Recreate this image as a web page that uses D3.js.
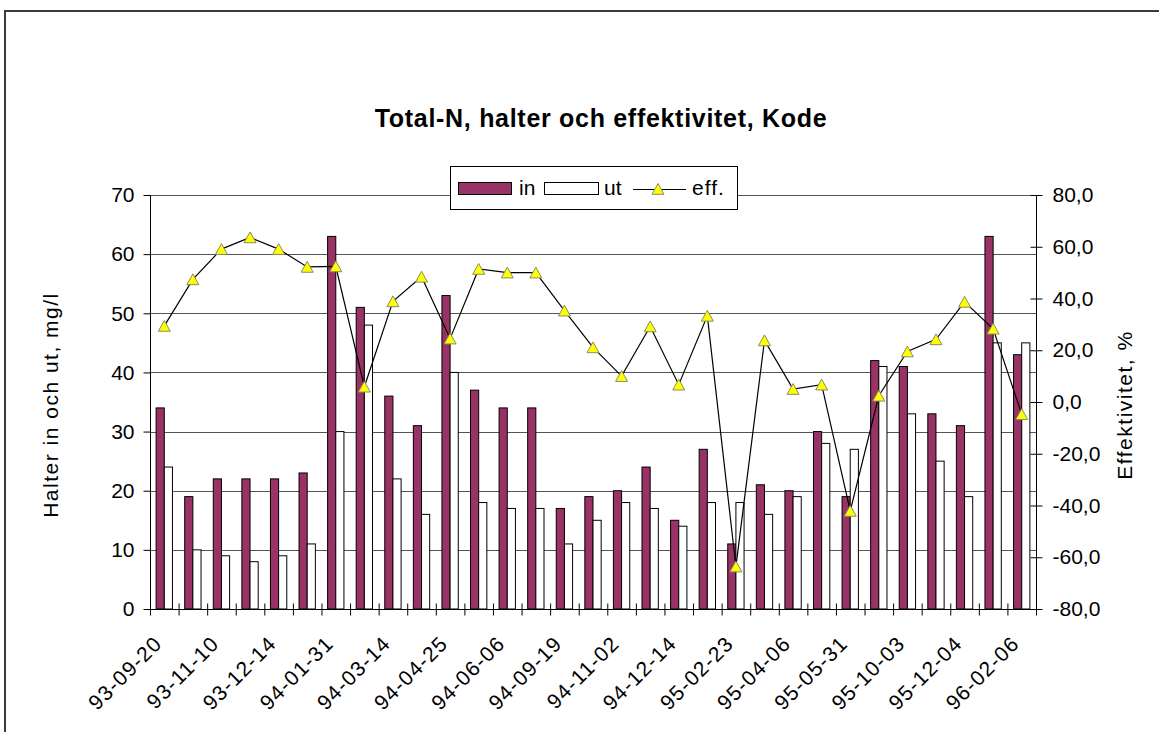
<!DOCTYPE html>
<html>
<head>
<meta charset="utf-8">
<script src="https://cdn.jsdelivr.net/npm/d3@7"></script>
<style>
  html, body { margin: 0; padding: 0; background: #fff; }
  svg { display: block; font-family: Arial, "Liberation Sans", sans-serif; }
</style>
</head>
<body>
<svg id="chart" width="1159" height="732"></svg>
<script>
// ---- data ----
const categoryLabels = ["93-09-20","93-11-10","93-12-14","94-01-31","94-03-14","94-04-25","94-06-06","94-09-19",
                        "94-11-02","94-12-14","95-02-23","95-04-06","95-05-31","95-10-03","95-12-04","96-02-06"]; // shown on every 2nd sample
const sampleCount = 31;
const inValues  = [34,19,22,22,22,23,63,51,36,31,53,37,34,34,17,19,20,24,15,27,11,21,20,30,19,42,41,33,31,63,43];
const utValues  = [24,10, 9, 8, 9,11,30,48,22,16,40,18,17,17,11,15,18,17,14,18,18,16,19,28,27,41,33,25,19,45,45];
const effValues = [29.4,47.4,59.1,63.6,59.1,52.2,52.4,5.9,38.9,48.4,24.5,51.4,50.0,50.0,35.3,21.1,10.0,29.2,6.7,33.3,
                   -63.6,23.8,5.0,6.7,-42.1,2.4,19.5,24.2,38.7,28.3,-4.7];
const leftTicks  = [0,10,20,30,40,50,60,70];
const rightTicks = [-80,-60,-40,-20,0,20,40,60,80];
const seriesNames = ["in","ut","eff."];
const titleText = "Total-N, halter och effektivitet, Kode";
const leftTitle = "Halter in och ut, mg/l";
const rightTitle = "Effektivitet, %";

// ---- layout ----
const svg = d3.select("#chart");
const X0 = 150, X1 = 1036, YT = 195, YB = 609;
const IN_COLOR = "#993366";

const idx = d3.range(sampleCount);
const x = d3.scaleBand().domain(idx).range([X0, X1]).paddingInner(1.5/3.5).paddingOuter(0.75/3.5);
const xs = d3.scaleBand().domain(["in","ut"]).range([0, x.bandwidth()]);
const step = (X1 - X0) / sampleCount;
const xc = i => X0 + (i + 0.5) * step;
const xEdge = d3.scaleLinear().domain([0, sampleCount]).range([X0, X1]);
const yL = d3.scaleLinear().domain([0, 70]).range([YB, YT]);
const yR = d3.scaleLinear().domain([-80, 80]).range([YB, YT]);

// outer frame
svg.append("path")
  .attr("d", `M5,732 L5,11 L1159,11`)
  .attr("fill", "none").attr("stroke", "#3a3a3a").attr("stroke-width", 2);

// title
svg.append("text")
  .attr("x", 601).attr("y", 127)
  .attr("text-anchor", "middle")
  .attr("font-size", 25).attr("font-weight", "bold")
  .attr("letter-spacing", 0.7)
  .text(titleText);

// gridlines
svg.append("g").selectAll("line")
  .data(leftTicks.filter(d => d > 0))
  .join("line")
  .attr("x1", X0).attr("x2", X1)
  .attr("y1", d => Math.round(yL(d)) + 0.5).attr("y2", d => Math.round(yL(d)) + 0.5)
  .attr("stroke", "#555").attr("stroke-width", 1);

// bars
const gBars = svg.append("g");
gBars.selectAll("rect.in").data(idx).join("rect").attr("class", "in")
  .attr("x", i => x(i) + xs("in")).attr("width", xs.bandwidth())
  .attr("y", i => yL(inValues[i])).attr("height", i => yL(0) - yL(inValues[i]))
  .attr("fill", IN_COLOR).attr("stroke", "#000").attr("stroke-width", 1);
gBars.selectAll("rect.ut").data(idx).join("rect").attr("class", "ut")
  .attr("x", i => x(i) + xs("ut")).attr("width", xs.bandwidth())
  .attr("y", i => yL(utValues[i])).attr("height", i => yL(0) - yL(utValues[i]))
  .attr("fill", "#fff").attr("stroke", "#000").attr("stroke-width", 1);

// left axis
const gL = svg.append("g").attr("transform", `translate(${X0 + 0.5},0)`)
  .call(d3.axisLeft(yL).tickValues(leftTicks).tickSize(7).tickPadding(9).tickFormat(d3.format("d")));
gL.selectAll("text").attr("font-size", 21).attr("fill", "#000").attr("font-family", "Arial, 'Liberation Sans', sans-serif");
gL.selectAll("line, path").attr("stroke", "#000");
gL.select(".domain").attr("d", `M0,${YT}V${YB}`);

// right axis
const fmtR = v => d3.format(".1f")(v).replace(".", ",").replace("\u2212", "-");
const gR = svg.append("g").attr("transform", `translate(${X1 + 0.5},0)`)
  .call(d3.axisRight(yR).tickValues(rightTicks).tickSize(6).tickPadding(10).tickFormat(fmtR));
gR.selectAll(".tick line").attr("x1", -6).attr("x2", 6);
gR.selectAll("text").attr("font-size", 21).attr("fill", "#000").attr("font-family", "Arial, 'Liberation Sans', sans-serif");
gR.selectAll("line, path").attr("stroke", "#000");
gR.select(".domain").attr("d", `M0,${YT}V${YB}`);

// bottom axis: ticks between categories
const gB = svg.append("g").attr("transform", `translate(0,${YB + 0.5})`)
  .call(d3.axisBottom(xEdge).tickValues(d3.range(sampleCount + 1)).tickSize(6).tickFormat(""));
gB.selectAll(".tick line").attr("y1", -6).attr("y2", 6).attr("stroke", "#000");
gB.select(".domain").attr("d", `M${X0},0H${X1}`).attr("stroke", "#000");

// bottom labels (every second sample)
const gBL = svg.append("g")
  .attr("font-size", 21).attr("letter-spacing", 1.2);
gBL.selectAll("text").data(categoryLabels).join("text")
  .attr("transform", (d, k) => `translate(${xc(k * 2) - 1},${645}) rotate(-45)`)
  .attr("text-anchor", "end")
  .text(d => d);

// axis titles
svg.append("text")
  .attr("transform", `translate(58,405) rotate(-90)`)
  .attr("text-anchor", "middle").attr("font-size", 21).attr("letter-spacing", 1.5)
  .text(leftTitle);
svg.append("text")
  .attr("transform", `translate(1132,405) rotate(-90)`)
  .attr("text-anchor", "middle").attr("font-size", 21).attr("letter-spacing", 1.5)
  .text(rightTitle);

// efficiency line
const line = d3.line().x(i => xc(i)).y(i => yR(effValues[i]));
svg.append("path").datum(idx).attr("d", line)
  .attr("fill", "none").attr("stroke", "#000").attr("stroke-width", 1.2);

const tri = "M0,-5.5L6,5.3L-6,5.3Z";
svg.append("g").selectAll("path").data(idx).join("path")
  .attr("transform", i => `translate(${xc(i)},${yR(effValues[i])})`)
  .attr("d", tri)
  .attr("fill", "#ffff00").attr("stroke", "#8a8a6a").attr("stroke-width", 1);

// legend
const lg = svg.append("g");
lg.append("rect").attr("x", 450.5).attr("y", 166.5).attr("width", 287).attr("height", 43)
  .attr("fill", "#fff").attr("stroke", "#000").attr("stroke-width", 1);
lg.append("rect").attr("x", 458.5).attr("y", 182.5).attr("width", 53).attr("height", 12)
  .attr("fill", IN_COLOR).attr("stroke", "#000");
lg.append("text").attr("x", 519).attr("y", 195).attr("font-size", 21).text(seriesNames[0]);
lg.append("rect").attr("x", 544.5).attr("y", 182.5).attr("width", 54).attr("height", 12)
  .attr("fill", "#fff").attr("stroke", "#000");
lg.append("text").attr("x", 604).attr("y", 195).attr("font-size", 21).text(seriesNames[1]);
lg.append("line").attr("x1", 633).attr("x2", 686).attr("y1", 189.5).attr("y2", 189.5)
  .attr("stroke", "#000").attr("stroke-width", 1.2);
lg.append("path").attr("transform", "translate(658,189)").attr("d", tri)
  .attr("fill", "#ffff00").attr("stroke", "#8a8a6a");
lg.append("text").attr("x", 692).attr("y", 195).attr("font-size", 21).attr("letter-spacing", 1).text(seriesNames[2]);
</script>
</body>
</html>
